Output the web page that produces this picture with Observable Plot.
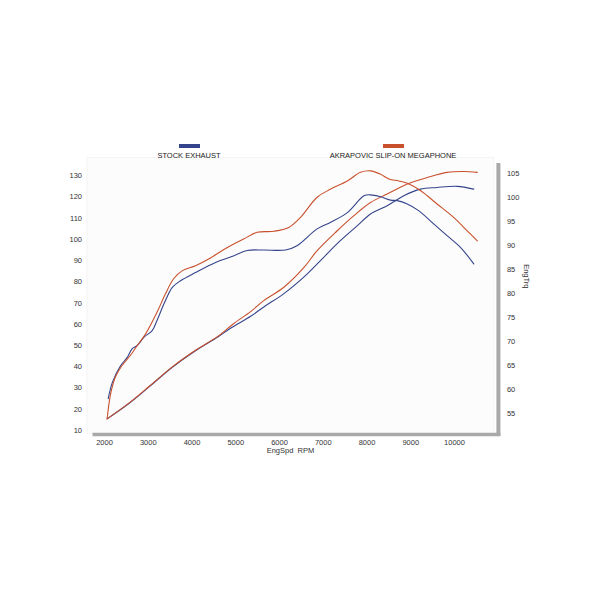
<!DOCTYPE html>
<html>
<head>
<meta charset="utf-8">
<script src="https://cdn.jsdelivr.net/npm/d3@7"></script>
<script src="https://cdn.jsdelivr.net/npm/@observablehq/plot@0.6"></script>
<style>
  body { margin: 0; background: #ffffff; }
  #wrap { position: relative; width: 600px; height: 600px; font-family: "Liberation Sans", Arial, sans-serif; }
  .lg { position: absolute; top: 144px; width: 160px; text-align: center; font-size: 7.5px; color: #222; }
  .sw { display: block; margin: 0 auto 3px auto; width: 21px; height: 4px; }
  #chart { position: absolute; left: 0; top: 0; }
</style>
</head>
<body>
<div id="wrap">
  <div id="chart"></div>
</div>
<script>
// ---- data ----
const seriesNames = ["STOCK EXHAUST", "AKRAPOVIC SLIP-ON MEGAPHONE"];
const seriesColors = ["#34448c", "#c9502c"];

// power (left axis)
const stockPowerRpm = [2060, 2550, 3010, 3550, 4080, 4580, 4880, 5340, 5640, 6100, 6630, 7010, 7390, 7780, 8080, 8460, 8840, 9220, 9600, 10060, 10440];
const stockPower    = [15.5, 22.6, 30.4, 39.8, 47.6, 53.9, 58.2, 63.8, 68.2, 74.5, 83.7, 91.6, 99.4, 106.5, 112.0, 115.9, 120.6, 123.7, 124.5, 125.0, 123.7];
const akraPowerRpm  = [2060, 2550, 3010, 3550, 4080, 4580, 4950, 5340, 5640, 6100, 6560, 6860, 7320, 7700, 8080, 8460, 8920, 9380, 9830, 10210, 10520];
const akraPower     = [15.5, 22.8, 30.6, 40.0, 47.8, 54.2, 60.3, 66.0, 71.2, 77.5, 86.8, 94.7, 104.1, 111.2, 117.4, 121.4, 126.1, 129.2, 131.6, 132.0, 131.6];

// torque (right axis, EngTrq)
const stockTorqueRpm = [2085, 2180, 2370, 2520, 2630, 2750, 2900, 3090, 3200, 3390, 3550, 3740, 4080, 4540, 4960, 5260, 5640, 6140, 6400, 6860, 7170, 7550, 7930, 8080, 8310, 8540, 8690, 8920, 9180, 9530, 9830, 10140, 10440];
const stockTorque    = [58.1, 61.5, 65.0, 66.7, 68.5, 69.2, 70.9, 72.3, 74.4, 78.5, 81.3, 82.7, 84.4, 86.5, 87.9, 89.0, 89.1, 89.1, 90.0, 93.5, 94.9, 96.9, 100.4, 100.6, 100.2, 99.5, 99.4, 98.7, 97.3, 94.5, 92.1, 89.6, 86.2];
const akraTorqueRpm  = [2060, 2140, 2250, 2400, 2590, 2750, 2940, 3200, 3390, 3580, 3780, 4080, 4380, 4690, 4880, 5180, 5490, 5870, 6210, 6480, 6860, 7170, 7550, 7850, 8080, 8310, 8500, 8730, 8920, 9220, 9600, 9980, 10290, 10520];
const akraTorque     = [53.9, 59.1, 62.6, 65.0, 67.1, 69.2, 71.6, 76.1, 79.9, 83.1, 84.8, 85.8, 87.2, 89.0, 90.0, 91.4, 92.8, 93.0, 93.8, 95.9, 100.1, 101.8, 103.5, 105.3, 105.6, 104.9, 103.9, 103.5, 103.0, 101.5, 98.7, 95.9, 93.1, 91.0];

const xTicks = [2000, 3000, 4000, 5000, 6000, 7000, 8000, 9000, 10000];
const leftTicks = [10, 20, 30, 40, 50, 60, 70, 80, 90, 100, 110, 120, 130];
const rightTicks = [55, 60, 65, 70, 75, 80, 85, 90, 95, 100, 105];
const xLabel = "EngSpd\u00a0 RPM";
const rightLabel = "EngTrq";

// ---- scale mapping: torque axis expressed in left-axis units ----
const tq0 = 55, tqOffset = 18.01, tqFactor = 2.2587;
const tqToLeft = t => tqOffset + (t - tq0) * tqFactor;
const leftToTq = v => Math.round((v - tqOffset) / tqFactor + tq0);

const xDomain = [1600, 10900];
const yDomain = [8.59, 138.6];

const rows = [];
function add(rpm, vals, series, kind, conv) {
  rpm.forEach((r, i) => rows.push({rpm: r, v: conv(vals[i]), series, kind}));
}
add(stockPowerRpm, stockPower, seriesNames[0], "power", v => v);
add(akraPowerRpm, akraPower, seriesNames[1], "power", v => v);
add(stockTorqueRpm, stockTorque, seriesNames[0], "torque", tqToLeft);
add(akraTorqueRpm, akraTorque, seriesNames[1], "torque", tqToLeft);

const plot = Plot.plot({
  width: 600,
  height: 600,
  marginLeft: 86.5,
  marginRight: 106.6,
  marginTop: 157,
  marginBottom: 167,
  style: {fontFamily: "'Liberation Sans', Arial, sans-serif", fontSize: "7.5px", color: "#333", background: "transparent"},
  x: {domain: xDomain, label: null},
  y: {domain: yDomain, label: null},
  color: {domain: seriesNames, range: seriesColors},
  marks: [
    Plot.frame({fill: "#fcfcfc", stroke: "#f4f4f4"}),
    Plot.ruleY([yDomain[0]], {stroke: "#a9a9a9", strokeWidth: 3.5, dy: 1, insetLeft: 6, insetRight: -7}),
    Plot.ruleX([xDomain[1]], {stroke: "#a9a9a9", strokeWidth: 4, dx: 4.5, insetTop: 6, insetBottom: -2.5}),
    Plot.axisX({ticks: xTicks, tickSize: 0, tickPadding: 6, tickFormat: d => String(d), label: null, fill: "#333"}),
    Plot.axisY({anchor: "left", ticks: leftTicks, tickSize: 0, tickPadding: 5, tickFormat: d => String(d), label: null, fill: "#333"}),
    Plot.axisY({anchor: "right", ticks: rightTicks.map(tqToLeft), tickSize: 0, tickPadding: 13, tickFormat: leftToTq, label: null, fill: "#333"}),
    Plot.text([xLabel], {frameAnchor: "bottom", lineAnchor: "top", dy: 14, fill: "#333"}),
    Plot.text([rightLabel], {frameAnchor: "right", rotate: 90, dx: 33, dy: -7, fill: "#333"}),
    Plot.line(rows, {x: "rpm", y: "v", stroke: "series", z: d => d.series + d.kind, strokeWidth: 1.1, curve: "catmull-rom"})
  ]
});
document.getElementById("chart").appendChild(plot);

// legend (HTML, above the plot area)
const legendCenters = [189, 393];
const wrap = document.getElementById("wrap");
seriesNames.forEach((name, i) => {
  const div = document.createElement("div");
  div.className = "lg";
  div.style.left = (legendCenters[i] - 80) + "px";
  const sw = document.createElement("span");
  sw.className = "sw";
  sw.style.background = seriesColors[i];
  div.appendChild(sw);
  div.appendChild(document.createTextNode(name));
  wrap.appendChild(div);
});
</script>
</body>
</html>
